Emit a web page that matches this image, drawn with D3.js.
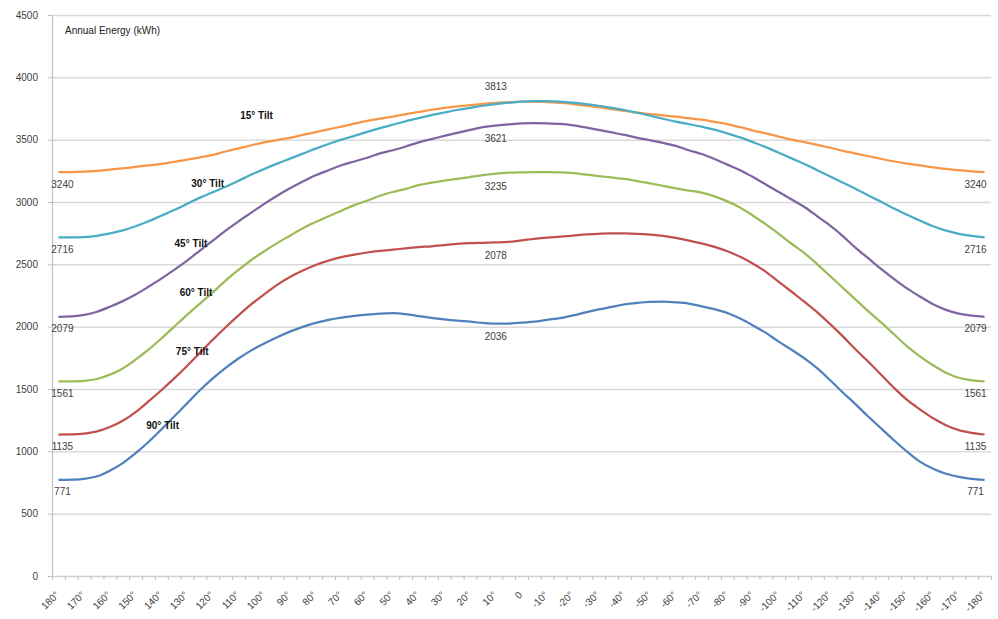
<!DOCTYPE html>
<html>
<head>
<meta charset="utf-8">
<script src="https://cdn.jsdelivr.net/npm/d3@7"></script>
<style>
  body { margin: 0; background: #fff; }
  text { font-family: "Liberation Sans", Arial, sans-serif; }
</style>
</head>
<body>
<div id="chart"></div>
<script>
// categories: azimuth in 5 degree steps
const angles = [180, 175, 170, 165, 160, 155, 150, 145, 140, 135, 130, 125, 120, 115, 110, 105, 100, 95, 90, 85, 80, 75, 70, 65, 60, 55, 50, 45, 40, 35, 30, 25, 20, 15, 10, 5, 0,
    -5, -10, -15, -20, -25, -30, -35, -40, -45, -50, -55, -60, -65, -70, -75, -80, -85, -90, -95, -100, -105, -110, -115, -120, -125, -130, -135, -140, -145, -150, -155, -160, -165, -170, -175, -180];

const tilt15 = [3240, 3240, 3243, 3250, 3260, 3270, 3282, 3293, 3305, 3322, 3340, 3358, 3378, 3405, 3430, 3455, 3478, 3497, 3515, 3538, 3560, 3583, 3605, 3628, 3650, 3668, 3685, 3705, 3722, 3740, 3755, 3767, 3778, 3788, 3795, 3800, 3805,
    3806, 3802, 3795, 3786, 3772, 3760, 3745, 3730, 3717, 3705, 3695, 3685, 3672, 3660, 3643, 3625, 3600, 3573, 3550, 3525, 3500, 3480, 3458, 3435, 3410, 3388, 3367, 3345, 3325, 3308, 3293, 3278, 3265, 3255, 3246, 3240];
const tilt30 = [2716, 2716, 2718, 2728, 2748, 2772, 2805, 2845, 2890, 2935, 2985, 3035, 3078, 3122, 3170, 3220, 3265, 3308, 3348, 3388, 3428, 3465, 3500, 3530, 3562, 3592, 3620, 3648, 3673, 3697, 3718, 3738, 3755, 3772, 3785, 3797, 3806,
    3810, 3810, 3806, 3797, 3786, 3772, 3755, 3738, 3716, 3692, 3668, 3645, 3625, 3604, 3580, 3550, 3518, 3480, 3440, 3395, 3350, 3305, 3255, 3205, 3155, 3105, 3050, 3000, 2945, 2895, 2850, 2805, 2770, 2745, 2728, 2716];
const tilt45 = [2079, 2082, 2095, 2120, 2160, 2205, 2258, 2320, 2385, 2455, 2530, 2610, 2690, 2770, 2845, 2915, 2985, 3050, 3110, 3165, 3215, 3255, 3295, 3325, 3355, 3390, 3415, 3445, 3478, 3505, 3530, 3555, 3578, 3600, 3613, 3622, 3630,
    3633, 3631, 3626, 3615, 3598, 3578, 3558, 3538, 3515, 3495, 3475, 3450, 3415, 3385, 3345, 3300, 3255, 3200, 3140, 3080, 3020, 2960, 2885, 2810, 2725, 2630, 2545, 2460, 2380, 2305, 2240, 2180, 2135, 2105, 2088, 2079];
const tilt60 = [1561, 1562, 1566, 1580, 1615, 1665, 1735, 1815, 1905, 2000, 2095, 2185, 2275, 2370, 2455, 2535, 2605, 2670, 2730, 2790, 2840, 2885, 2930, 2975, 3010, 3050, 3080, 3105, 3135, 3155, 3172, 3185, 3200, 3215, 3228, 3235, 3238,
    3240, 3240, 3238, 3232, 3220, 3208, 3197, 3185, 3168, 3150, 3130, 3110, 3092, 3075, 3045, 3005, 2955, 2890, 2820, 2745, 2665, 2590, 2500, 2405, 2310, 2215, 2120, 2030, 1935, 1840, 1760, 1690, 1630, 1590, 1570, 1561];
const tilt75 = [1135, 1136, 1142, 1160, 1195, 1245, 1315, 1400, 1490, 1585, 1685, 1790, 1895, 1995, 2090, 2180, 2260, 2335, 2398, 2450, 2495, 2530, 2558, 2578, 2595, 2608, 2618, 2628, 2638, 2645, 2655, 2665, 2670, 2673, 2676, 2680, 2692,
    2705, 2715, 2722, 2730, 2740, 2745, 2748, 2748, 2745, 2738, 2728, 2712, 2690, 2668, 2640, 2605, 2560, 2505, 2440, 2360, 2280, 2200, 2115, 2020, 1920, 1815, 1715, 1610, 1505, 1410, 1335, 1265, 1210, 1170, 1148, 1135];
const tilt90 = [771, 773, 780, 800, 845, 905, 985, 1075, 1175, 1280, 1385, 1490, 1585, 1670, 1745, 1810, 1865, 1915, 1960, 1998, 2030, 2055, 2073, 2086, 2097, 2105, 2108, 2100, 2085, 2070, 2058, 2048, 2040, 2030, 2024, 2025, 2033,
    2040, 2055, 2068, 2090, 2115, 2138, 2158, 2178, 2190, 2198, 2200, 2195, 2185, 2163, 2140, 2110, 2065, 2010, 1950, 1880, 1815, 1745, 1665, 1570, 1470, 1375, 1275, 1180, 1085, 995, 915, 860, 820, 795, 780, 771];

const seriesNames = ["15° Tilt", "30° Tilt", "45° Tilt", "60° Tilt", "75° Tilt", "90° Tilt"];
const seriesColors = ["#F79646", "#4BACC6", "#8064A2", "#9BBB59", "#C0504D", "#4F81BD"];
const seriesValues = [tilt15, tilt30, tilt45, tilt60, tilt75, tilt90];

// annotation anchors for the series names (azimuth, kWh)
const nameAngles = [103, 122, 128.5, 126.5, 128, 139.5];
const nameValues = [3690, 3152, 2671, 2278, 1797, 1211];

// text labels at both ends and near the middle
const endLabels = ["3240", "2716", "2079", "1561", "1135", "771"];
const midLabels = ["3813", null, "3621", "3235", "2078", "2036"];
const midAngle = 10;

const yTicks = [0, 500, 1000, 1500, 2000, 2500, 3000, 3500, 4000, 4500];
const titleText = "Annual Energy (kWh)";

const W = 998, H = 619;
const margin = {top: 15, right: 7, bottom: 43, left: 52};

const svg = d3.select("#chart").append("svg")
    .attr("width", W)
    .attr("height", H);

svg.append("rect").attr("width", W).attr("height", H).attr("fill", "#fff");

const x = d3.scaleLinear()
    .domain([182.5, -182.5])
    .range([margin.left, W - margin.right]);

const y = d3.scaleLinear()
    .domain([0, 4500])
    .range([H - margin.bottom, margin.top]);

// gridlines
svg.append("g")
    .attr("class", "grid")
    .attr("transform", "translate(" + margin.left + ",0)")
    .call(d3.axisLeft(y).tickValues(yTicks.slice(1)).tickSize(-(W - margin.right - margin.left)).tickFormat(""))
    .call(g => g.select(".domain").remove())
    .call(g => g.selectAll("line").attr("stroke", "#d9d9d9").attr("stroke-width", 1.5));

// y axis
svg.append("g")
    .attr("class", "y-axis")
    .attr("transform", "translate(" + margin.left + ",0)")
    .call(d3.axisLeft(y).tickValues(yTicks).tickSize(4).tickPadding(10).tickFormat(d3.format("d")))
    .call(g => g.select(".domain").attr("stroke", "#bfbfbf").attr("stroke-width", 1.2))
    .call(g => g.selectAll("line").attr("stroke", "#bfbfbf"))
    .call(g => g.selectAll("text").attr("fill", "#404040").style("font-size", "10px"));

// x axis: tick marks between categories
const bounds = angles.map(a => a + 2.5).concat([-182.5]);
svg.append("g")
    .attr("class", "x-axis")
    .attr("transform", "translate(0," + (H - margin.bottom) + ")")
    .call(d3.axisBottom(x).tickValues(bounds).tickSize(4).tickFormat("").tickSizeOuter(0))
    .call(g => g.select(".domain").attr("stroke", "#d0d0d0").attr("stroke-width", 1.5))
    .call(g => g.selectAll("line").attr("stroke", "#bfbfbf"));

// x labels every 10 degrees, rotated
const labelAngles = angles.filter(a => a % 10 === 0);
svg.append("g").selectAll("text")
    .data(labelAngles)
    .join("text")
    .attr("transform", d => "translate(" + (x(d) - 1) + "," + (H - margin.bottom + 17) + ") rotate(-45)")
    .attr("text-anchor", "end")
    .attr("dy", "0.35em")
    .attr("fill", "#404040")
    .style("font-size", "10px")
    .text(d => d === 0 ? "0" : d + "°");

// lines
const line = d3.line()
    .x((d, i) => x(angles[i]))
    .y(d => y(d))
    .curve(d3.curveMonotoneX);

svg.append("g").selectAll("path")
    .data(seriesValues)
    .join("path")
    .attr("fill", "none")
    .attr("stroke", (d, i) => seriesColors[i])
    .attr("stroke-width", 2.25)
    .attr("stroke-linejoin", "round")
    .attr("d", line);

// end labels
const last = angles.length - 1;
const lbl = svg.append("g").attr("class", "labels")
    .style("font-size", "10px")
    .attr("fill", "#404040");

seriesValues.forEach((vals, i) => {
    lbl.append("text")
        .attr("x", x(angles[0]) + 4)
        .attr("y", y(vals[0]) + 12)
        .attr("text-anchor", "middle")
        .attr("dy", "0.35em")
        .text(endLabels[i]);
    lbl.append("text")
        .attr("x", x(angles[last]) - 9)
        .attr("y", y(vals[last]) + 12)
        .attr("text-anchor", "middle")
        .attr("dy", "0.35em")
        .text(endLabels[i]);
    if (midLabels[i]) {
        const k = angles.indexOf(midAngle);
        const above = i === 0;
        lbl.append("text")
            .attr("x", x(midAngle))
            .attr("y", y(vals[k]) + (above ? -16 : 13))
            .attr("text-anchor", "middle")
            .attr("dy", "0.35em")
            .text(midLabels[i]);
    }
});

// series names
svg.append("g").selectAll("text")
    .data(seriesNames)
    .join("text")
    .attr("x", (d, i) => x(nameAngles[i]))
    .attr("y", (d, i) => y(nameValues[i]))
    .attr("text-anchor", "middle")
    .attr("dy", "0.35em")
    .attr("fill", "#111")
    .style("font-size", "10px")
    .style("font-weight", "bold")
    .text(d => d);

// title inside the plot
svg.append("text")
    .attr("x", 65)
    .attr("y", 30)
    .attr("dy", "0.35em")
    .attr("fill", "#1a1a1a")
    .style("font-size", "10px")
    .text(titleText);
</script>
</body>
</html>
